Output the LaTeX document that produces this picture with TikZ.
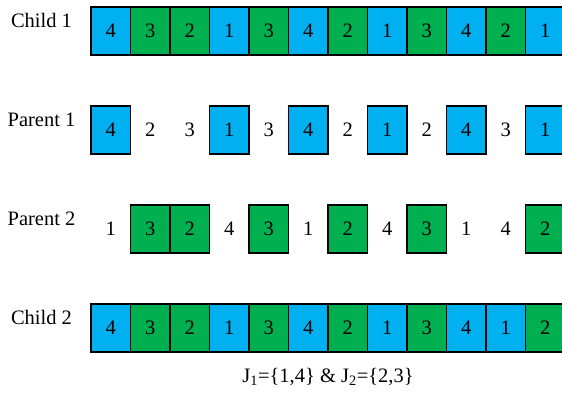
\documentclass[tikz,border=0pt]{standalone}
\usepackage{fontspec}
\setmainfont{Liberation Serif}
\usetikzlibrary{positioning}
\definecolor{geneblue}{HTML}{00B0F0}
\definecolor{genegreen}{HTML}{00B050}

\begin{document}
\begin{tikzpicture}[
    x=1pt, y=-1pt,
    font=\fontsize{20.5}{24}\selectfont,
    gene/.style={minimum width=39.5pt, minimum height=48.5pt, inner sep=0pt, outer sep=0pt},
    cell/.style={gene, draw, line width=1.6pt},
    bluecell/.style={cell, fill=geneblue},
    greencell/.style={cell, fill=genegreen},
    rowlabel/.style={anchor=center},
]
\clip (0,0) rectangle (562,392);

% === Child 1 ===
\node[rowlabel] (lchild1) at (41.5,20.5) {Child 1};
\foreach \v/\c [count=\i] in {4/bluecell,3/greencell,2/greencell,1/bluecell,
    3/greencell,4/bluecell,2/greencell,1/bluecell,3/greencell,4/bluecell,
    2/greencell,1/bluecell}
  \node[\c] (ca\i) at ({91+(\i-0.5)*39.5},31) {\v};

% === Parent 1 ===
\node[rowlabel] (lparent1) at (41.5,119.5) {Parent 1};
\foreach \v/\c [count=\i] in {4/bluecell,2/gene,3/gene,1/bluecell,3/gene,
    4/bluecell,2/gene,1/bluecell,2/gene,4/bluecell,3/gene,1/bluecell}
  \node[\c] (pa\i) at ({91+(\i-0.5)*39.5},130) {\v};

% === Parent 2 ===
\node[rowlabel] (lparent2) at (41.5,218.5) {Parent 2};
\foreach \v/\c [count=\i] in {1/gene,3/greencell,2/greencell,4/gene,
    3/greencell,1/gene,2/greencell,4/gene,3/greencell,1/gene,4/gene,
    2/greencell}
  \node[\c] (pb\i) at ({91+(\i-0.5)*39.5},229) {\v};

% === Child 2 ===
\node[rowlabel] (lchild2) at (41.5,317.5) {Child 2};
\foreach \v/\c [count=\i] in {4/bluecell,3/greencell,2/greencell,1/bluecell,
    3/greencell,4/bluecell,2/greencell,1/bluecell,3/greencell,4/bluecell,
    1/bluecell,2/greencell}
  \node[\c] (cb\i) at ({91+(\i-0.5)*39.5},328) {\v};

% job sets
\node (jsets) at (328,377) {J\textsubscript{1}=\{1,4\} \& J\textsubscript{2}=\{2,3\}};

\end{tikzpicture}
\end{document}
